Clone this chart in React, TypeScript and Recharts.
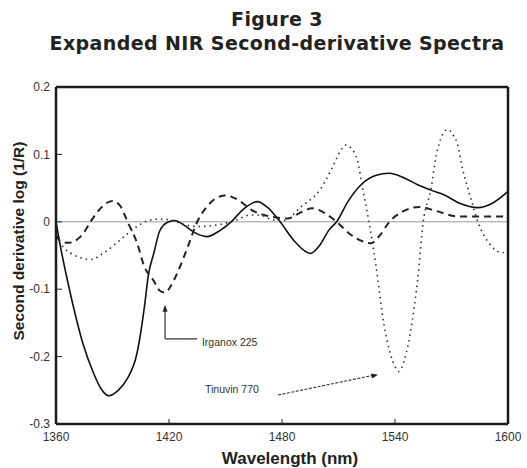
import React from 'react';
import { LineChart, Line, XAxis, YAxis, ReferenceLine, ReferenceDot } from 'recharts';

// wavelength (nm) ticks and 2nd-derivative ticks
const xTicks = [1360, 1420, 1480, 1540, 1600];
const yTicks = [0.2, 0.1, 0, -0.1, -0.2, -0.3];

// unlabelled solid spectrum
const solidSpectrum = [
  [1360, 0.0], [1363, -0.046], [1366, -0.086], [1370, -0.135], [1374, -0.178], [1380, -0.225],
  [1384, -0.248], [1388, -0.258], [1393, -0.25], [1398, -0.232], [1403, -0.195], [1407, -0.125],
  [1409, -0.08], [1412, -0.046], [1415, -0.014], [1419, -0.001], [1423, 0.002], [1428, -0.005],
  [1433, -0.015], [1440, -0.022], [1447, -0.013], [1453, 0.0], [1460, 0.02], [1467, 0.03],
  [1472, 0.022], [1479, 0.0], [1487, -0.03], [1495, -0.047], [1500, -0.035], [1505, -0.012],
  [1509, 0.0], [1515, 0.03], [1522, 0.055], [1530, 0.069], [1537, 0.072], [1545, 0.065],
  [1552, 0.055], [1559, 0.047], [1566, 0.04], [1574, 0.028], [1584, 0.021], [1592, 0.028],
  [1600, 0.045],
];

// Irganox 225 (dashed)
const irganoxSpectrum = [
  [1360, -0.02], [1363, -0.03], [1367, -0.031], [1373, -0.022], [1380, 0.007], [1384, 0.021],
  [1390, 0.031], [1394, 0.024], [1398, 0.0], [1403, -0.031], [1407, -0.067], [1412, -0.088],
  [1415, -0.102], [1418, -0.105], [1421, -0.095], [1425, -0.072], [1430, -0.037], [1435, 0.0],
  [1440, 0.022], [1445, 0.035], [1450, 0.039], [1458, 0.03], [1463, 0.019], [1472, 0.009],
  [1483, 0.005], [1490, 0.014], [1496, 0.02], [1502, 0.014], [1509, 0.0], [1516, -0.018],
  [1522, -0.028], [1527, -0.032], [1532, -0.02], [1537, 0.0], [1544, 0.015], [1553, 0.022],
  [1562, 0.016], [1573, 0.008], [1585, 0.008], [1600, 0.008],
];

// Tinuvin 770 (dotted)
const tinuvinSpectrum = [
  [1360, -0.022], [1364, -0.038], [1370, -0.05], [1378, -0.056], [1386, -0.045], [1394, -0.027],
  [1403, -0.007], [1409, 0.002], [1414, 0.004], [1420, 0.003], [1428, -0.004], [1435, -0.007],
  [1445, -0.005], [1456, 0.003], [1463, 0.01], [1468, 0.01], [1475, 0.003], [1481, 0.002],
  [1490, 0.022], [1500, 0.047], [1507, 0.082], [1511, 0.105], [1514, 0.114], [1517, 0.108],
  [1520, 0.092], [1523, 0.047], [1526, 0.003], [1530, -0.067], [1534, -0.15], [1537, -0.19],
  [1540, -0.215], [1542, -0.222], [1545, -0.205], [1549, -0.15], [1552, -0.086], [1555, 0.0],
  [1559, 0.047], [1562, 0.1], [1565, 0.128], [1568, 0.137], [1571, 0.128], [1573, 0.117],
  [1576, 0.077], [1580, 0.037], [1584, 0.0], [1590, -0.032], [1597, -0.046], [1600, -0.04],
];

const toPoints = (s: number[][]) => s.map(([nm, v]) => ({ nm, v }));

const font = "'Liberation Sans', Arial, sans-serif";
const tickStyle = { fontSize: 12, fill: '#333', fontFamily: font };
const frame = { stroke: '#1a1a1a', strokeWidth: 2.5 };

const arrowUp = (p: any) => (
  <polygon points={`${p.cx},${p.cy} ${p.cx - 2.5},${p.cy + 7} ${p.cx + 2.5},${p.cy + 7}`} fill="#222" />
);
const arrowRight = (p: any) => (
  <polygon
    points={`${p.cx},${p.cy} ${p.cx - 7},${p.cy - 1.2} ${p.cx - 6},${p.cy + 3.8}`}
    fill="#222"
  />
);
const note = (text: string) => (p: any) => (
  <text x={p.cx} y={p.cy} dominantBaseline="central" fontSize={10.5} fill="#333" fontFamily={font}>
    {text}
  </text>
);

export default function App() {
  return (
    <div style={{ position: 'absolute', left: 0, top: 0, width: 527, height: 468, background: '#fff' }}>
      <div style={{ position: 'absolute', left: 27, width: 500, top: 7, textAlign: 'center', fontFamily: "'DejaVu Sans', sans-serif", fontWeight: 'bold', fontSize: 19, letterSpacing: 0.4, color: '#222', lineHeight: '24px' }}>
        Figure 3
        <br />
        Expanded NIR Second-derivative Spectra
      </div>
      <LineChart width={527} height={468} margin={{ top: 86, right: 18, bottom: 43, left: 55 }} style={{ position: 'absolute', left: 0, top: 0 }}>
        <XAxis
          type="number"
          dataKey="nm"
          domain={[1360, 1600]}
          ticks={xTicks}
          height={1}
          tickSize={-5}
          tickMargin={13}
          tick={tickStyle}
          tickLine={{ stroke: '#222' }}
          axisLine={frame}
          allowDataOverflow
        />
        <XAxis xAxisId="top" orientation="top" type="number" dataKey="nm" domain={[1360, 1600]} height={1} tick={false} tickLine={false} axisLine={frame} />
        <YAxis
          type="number"
          domain={[-0.3, 0.2]}
          ticks={yTicks}
          width={1}
          tickSize={-6}
          tickMargin={12}
          tick={tickStyle}
          tickLine={{ stroke: '#222' }}
          axisLine={frame}
          tickFormatter={(v: number) => (v === 0 ? '0' : v.toFixed(1))}
          allowDataOverflow
        />
        <YAxis yAxisId="right" orientation="right" type="number" domain={[-0.3, 0.2]} width={1} tick={false} tickLine={false} axisLine={frame} />
        <ReferenceLine y={0} stroke="#999" strokeWidth={1} />
        <Line data={toPoints(solidSpectrum)} dataKey="v" type="monotone" stroke="#111" strokeWidth={1.6} dot={false} isAnimationActive={false} />
        <Line data={toPoints(irganoxSpectrum)} dataKey="v" type="monotone" stroke="#222" strokeWidth={2} strokeDasharray="7 5" dot={false} isAnimationActive={false} />
        <Line data={toPoints(tinuvinSpectrum)} dataKey="v" type="monotone" stroke="#333" strokeWidth={1.6} strokeDasharray="1.5 4" dot={false} isAnimationActive={false} />
        {/* annotations */}
        <ReferenceLine segment={[{ x: 1417.9, y: -0.129 }, { x: 1417.9, y: -0.1736 }]} stroke="#333" strokeWidth={1.2} />
        <ReferenceLine segment={[{ x: 1417.9, y: -0.1736 }, { x: 1434.9, y: -0.1736 }]} stroke="#333" strokeWidth={1.2} />
        <ReferenceDot x={1417.9} y={-0.123} r={0} shape={arrowUp} />
        <ReferenceDot x={1437.5} y={-0.178} r={0} shape={note('Irganox 225')} />
        <ReferenceLine segment={[{ x: 1477.9, y: -0.257 }, { x: 1528, y: -0.228 }]} stroke="#333" strokeWidth={1.1} strokeDasharray="3 1.5" />
        <ReferenceDot x={1531} y={-0.227} r={0} shape={arrowRight} />
        <ReferenceDot x={1439.1} y={-0.248} r={0} shape={note('Tinuvin 770')} />
      </LineChart>
      <div style={{ position: 'absolute', left: 19, top: 241, transform: 'translate(-50%, -50%) rotate(-90deg)', whiteSpace: 'nowrap', fontFamily: font, fontWeight: 'bold', fontSize: 15.5, color: '#222' }}>
        Second derivative log (1/R)
      </div>
      <div style={{ position: 'absolute', left: 290, top: 459, transform: 'translate(-50%, -50%)', whiteSpace: 'nowrap', fontFamily: font, fontWeight: 'bold', fontSize: 17, color: '#222' }}>
        Wavelength (nm)
      </div>
    </div>
  );
}
